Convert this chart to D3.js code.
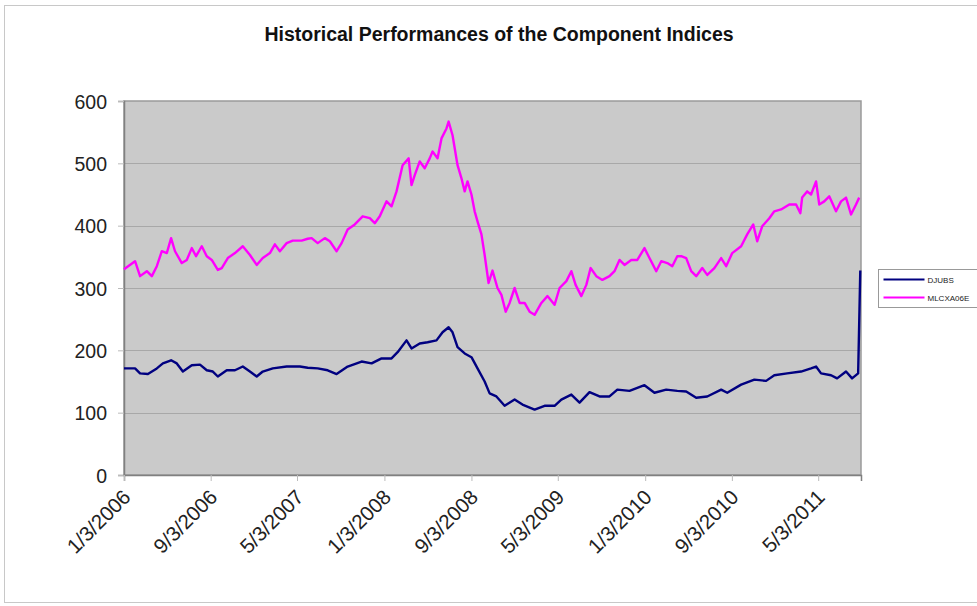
<!DOCTYPE html>
<html><head><meta charset="utf-8">
<script src="https://cdn.jsdelivr.net/npm/d3@7/dist/d3.min.js"></script>
<style>body{margin:0;background:#fff}svg{display:block}</style>
</head><body>
<svg id="c" width="977" height="606"></svg>
<script>
const title = "Historical Performances of the Component Indices";
const seriesNames = ["DJUBS", "MLCXA06E"];
const yTicks = [0, 100, 200, 300, 400, 500, 600];
const xTickLabels = ["1/3/2006","9/3/2006","5/3/2007","1/3/2008","9/3/2008","5/3/2009","1/3/2010","9/3/2010","5/3/2011"];
const xDomain = ["2006-01-03", "2011-08-31"];

const djubsDates = ["2006-01-03","2006-02-03","2006-02-17","2006-03-11","2006-04-05","2006-04-22","2006-05-15","2006-05-31","2006-06-17","2006-07-12","2006-08-04","2006-08-23","2006-09-09","2006-09-23","2006-10-18","2006-11-10","2006-12-02","2006-12-22","2007-01-10","2007-01-27","2007-02-24","2007-04-04","2007-05-11","2007-06-02","2007-06-30","2007-07-28","2007-08-22","2007-09-22","2007-10-31","2007-11-28","2007-12-26","2008-01-23","2008-02-09","2008-03-05","2008-03-19","2008-04-11","2008-05-03","2008-05-28","2008-06-14","2008-07-01","2008-07-12","2008-07-26","2008-08-15","2008-09-03","2008-09-20","2008-10-10","2008-10-24","2008-11-12","2008-12-05","2009-01-02","2009-01-24","2009-02-27","2009-03-27","2009-04-24","2009-05-13","2009-06-10","2009-07-03","2009-07-31","2009-08-28","2009-09-25","2009-10-17","2009-11-20","2010-01-01","2010-01-29","2010-03-03","2010-04-03","2010-04-28","2010-05-26","2010-06-26","2010-08-04","2010-08-21","2010-09-29","2010-11-05","2010-12-08","2010-12-31","2011-02-05","2011-03-16","2011-04-13","2011-04-27","2011-05-11","2011-06-08","2011-06-25","2011-07-20","2011-08-06","2011-08-23","2011-08-29"];
const djubsValues = [171,171,163,162,171,179,184,179,166,176,177,168,166,158,168,168,174,166,158,166,171,174,174,172,171,168,162,174,182,179,187,187,197,216,203,211,213,216,229,237,229,205,195,189,171,150,131,126,111,121,113,105,111,111,121,129,116,133,126,126,137,135,144,132,137,135,134,124,126,137,132,145,153,151,160,163,166,171,174,163,160,155,166,155,163,328];

const mlcxDates = ["2006-01-03","2006-02-03","2006-02-17","2006-03-08","2006-03-22","2006-04-05","2006-04-19","2006-05-03","2006-05-15","2006-05-26","2006-06-14","2006-06-28","2006-07-12","2006-07-24","2006-08-09","2006-08-23","2006-09-06","2006-09-23","2006-10-04","2006-10-21","2006-11-10","2006-12-02","2006-12-22","2007-01-10","2007-01-27","2007-02-16","2007-03-02","2007-03-16","2007-04-04","2007-04-21","2007-05-16","2007-06-02","2007-06-13","2007-06-30","2007-07-20","2007-08-03","2007-08-22","2007-09-05","2007-09-22","2007-10-12","2007-11-03","2007-11-23","2007-12-07","2007-12-21","2008-01-09","2008-01-23","2008-02-06","2008-02-23","2008-03-11","2008-03-19","2008-03-28","2008-04-11","2008-04-25","2008-05-09","2008-05-17","2008-05-31","2008-06-11","2008-06-25","2008-07-01","2008-07-12","2008-07-26","2008-08-06","2008-08-15","2008-08-23","2008-09-03","2008-09-12","2008-09-20","2008-10-01","2008-10-10","2008-10-21","2008-11-01","2008-11-15","2008-11-26","2008-12-08","2008-12-19","2009-01-02","2009-01-16","2009-01-30","2009-02-13","2009-02-27","2009-03-18","2009-04-04","2009-04-24","2009-05-08","2009-05-27","2009-06-10","2009-06-22","2009-07-08","2009-07-22","2009-08-03","2009-08-19","2009-09-05","2009-09-25","2009-10-09","2009-10-23","2009-11-06","2009-11-25","2009-12-12","2010-01-01","2010-01-15","2010-02-03","2010-02-17","2010-03-06","2010-03-20","2010-04-03","2010-04-14","2010-04-28","2010-05-12","2010-05-26","2010-06-12","2010-06-26","2010-07-16","2010-08-04","2010-08-18","2010-09-04","2010-09-29","2010-10-16","2010-11-02","2010-11-13","2010-11-27","2010-12-17","2010-12-31","2011-01-19","2011-02-11","2011-03-02","2011-03-14","2011-03-19","2011-04-02","2011-04-13","2011-04-27","2011-05-06","2011-05-20","2011-06-03","2011-06-22","2011-07-06","2011-07-20","2011-08-03","2011-08-17","2011-08-26"];
const mlcxValues = [330,343,319,327,319,335,359,356,380,359,340,345,364,351,367,351,345,329,332,348,356,367,353,337,348,356,370,359,372,376,376,379,380,372,380,375,359,372,394,402,415,412,404,415,439,431,455,497,508,465,481,503,492,508,519,508,540,556,567,545,497,476,455,471,450,423,407,386,353,308,328,300,289,262,276,300,276,276,262,257,276,287,273,300,311,327,305,287,305,332,319,313,319,327,345,337,345,345,364,348,327,343,340,335,351,351,348,327,319,332,321,332,348,335,356,367,386,402,375,399,412,423,426,434,434,420,445,455,450,471,434,439,447,423,439,445,418,434,445];

const parse = d3.timeParse("%Y-%m-%d");
const parseTick = d3.timeParse("%m/%d/%Y");
const colors = ["#000080", "#ff00ff"];
const font = "Liberation Sans, Arial, sans-serif";

const svg = d3.select("#c");
svg.append("rect").attr("x",4.5).attr("y",5.5).attr("width",990).attr("height",597)
  .attr("fill","#fff").attr("stroke","#c8c8c8");

const m = {l:124, t:101, r:861, b:475};
const x = d3.scaleTime().domain(xDomain.map(parse)).range([m.l, m.r]);
const y = d3.scaleLinear().domain([0,600]).range([m.b, m.t]);

svg.append("text").attr("x",499).attr("y",41).attr("text-anchor","middle")
  .attr("font-family",font).attr("font-weight","bold")
  .attr("font-size",19.5).attr("fill","#111").text(title);

svg.append("rect").attr("x",m.l).attr("y",m.t).attr("width",m.r-m.l).attr("height",m.b-m.t)
  .attr("fill","#cacaca");

svg.append("g").selectAll("line").data(yTicks.filter(v=>v>0 && v<600)).join("line")
  .attr("x1",m.l).attr("x2",m.r).attr("y1",d=>Math.round(y(d))+0.5).attr("y2",d=>Math.round(y(d))+0.5)
  .attr("stroke","#a8a8a8").attr("stroke-width",1.2);

svg.append("rect").attr("x",m.l).attr("y",m.t).attr("width",m.r-m.l).attr("height",m.b-m.t)
  .attr("fill","none").attr("stroke","#9a9a9a").attr("stroke-width",1.5);

const yAxis = svg.append("g").attr("transform",`translate(${m.l},0)`)
  .call(d3.axisLeft(y).tickValues(yTicks).tickSize(6).tickPadding(11));
yAxis.select(".domain").attr("stroke","#808080").attr("stroke-width",1.5);
yAxis.selectAll(".tick line").attr("stroke","#bbb");
yAxis.selectAll("text").attr("font-family",font)
  .attr("font-size",19.5).attr("fill","#222").attr("dy","0.36em");

const xTicks = xTickLabels.map(parseTick);
const xAxis = svg.append("g").attr("transform",`translate(0,${m.b})`)
  .call(d3.axisBottom(x).tickValues(xTicks).tickFormat((d,i)=>xTickLabels[i]).tickSize(6));
xAxis.select(".domain").attr("stroke","#808080").attr("stroke-width",1.5);
xAxis.selectAll(".tick line").attr("stroke","#bbb");
xAxis.selectAll("text").attr("font-family",font)
  .attr("font-size",20.5).attr("fill","#222")
  .attr("text-anchor","end").attr("dy",0)
  .attr("transform","translate(1,17) rotate(-45)");

const line = d3.line().x(d=>x(d[0])).y(d=>y(d[1]));
const s1 = djubsDates.map((d,i)=>[parse(d), djubsValues[i]]);
const s2 = mlcxDates.map((d,i)=>[parse(d), mlcxValues[i]]);
svg.append("path").datum(s2).attr("d",line).attr("fill","none").attr("stroke",colors[1]).attr("stroke-width",2.4).attr("stroke-linejoin","round");
svg.append("path").datum(s1).attr("d",line).attr("fill","none").attr("stroke",colors[0]).attr("stroke-width",2.4).attr("stroke-linejoin","round");

const lg = svg.append("g").attr("transform","translate(878.5,269.5)");
lg.append("rect").attr("width",120).attr("height",38).attr("fill","#fff").attr("stroke","#999");
seriesNames.forEach((n,i)=>{
  const yy = 10 + i*18;
  lg.append("line").attr("x1",5).attr("x2",46).attr("y1",yy).attr("y2",yy).attr("stroke",colors[i]).attr("stroke-width",2);
  lg.append("text").attr("x",49).attr("y",yy+3).attr("font-family",font)
    .attr("font-size",8).attr("fill","#222").text(n);
});
</script>
</body></html>
